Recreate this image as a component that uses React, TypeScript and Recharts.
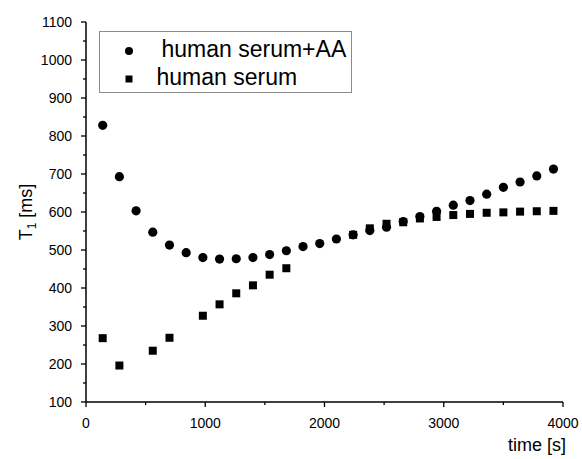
import React from 'react';
import { ScatterChart, Scatter, XAxis, YAxis } from 'recharts';

// time points [s]
const times = [140, 280, 420, 560, 700, 840, 980, 1120, 1260, 1400, 1540, 1680, 1820, 1960,
  2100, 2240, 2380, 2520, 2660, 2800, 2940, 3080, 3220, 3360, 3500, 3640, 3780, 3920];

// T1 [ms], human serum + AA (circles)
const serumAA = [828, 693, 603, 547, 513, 493, 480, 476, 477, 480, 488, 498, 509, 517,
  529, 540, 551, 560, 575, 588, 602, 618, 630, 647, 665, 679, 695, 713];

// T1 [ms], human serum (squares), null = no point
const serum = [268, 196, null, 235, 269, null, 327, 357, 386, 407, 435, 452, null, null,
  null, 540, 557, 569, 573, 583, 587, 592, 595, 598, 599, 601, 602, 603];

const xTicks = [0, 500, 1000, 1500, 2000, 2500, 3000, 3500, 4000];
const yTicks = [100, 150, 200, 250, 300, 350, 400, 450, 500, 550, 600, 650, 700, 750, 800, 850, 900, 950, 1000, 1050, 1100];

const FONT = '"Liberation Sans", Arial, sans-serif';

const toPoints = (vals: (number | null)[]) =>
  times.map((t, i) => ({ t, v: vals[i] })).filter((p) => p.v !== null);

const XTick = (props: any) => {
  const { x, y, payload } = props;
  const major = payload.value % 1000 === 0;
  return (
    <g>
      <line x1={x} x2={x} y1={y} y2={y + (major ? 5 : 3)} stroke="#000" strokeWidth={1.3} />
      {major && (
        <text x={x} y={y + 25.5} textAnchor="middle" fontSize={14} fontFamily={FONT} fill="#000">
          {payload.value}
        </text>
      )}
    </g>
  );
};

const YTick = (props: any) => {
  const { x, y, payload } = props;
  const major = payload.value % 100 === 0;
  return (
    <g>
      <line x1={x} x2={x - (major ? 5 : 3)} y1={y} y2={y} stroke="#000" strokeWidth={1.3} />
      {major && (
        <text x={x - 14} y={y + 5} textAnchor="end" fontSize={14} fontFamily={FONT} fill="#000">
          {payload.value}
        </text>
      )}
    </g>
  );
};

const Dot = (props: any) => <circle cx={props.cx} cy={props.cy} r={4.6} fill="#000" />;
const Square = (props: any) => <rect x={props.cx - 4} y={props.cy - 4} width={8} height={8} fill="#000" />;

const LegendBox = () => (
  <svg width={253} height={62} style={{ display: 'block' }}>
    <rect x={0.5} y={0.5} width={252} height={61} fill="#fff" stroke="#8c8c8c" />
    <circle cx={30} cy={20} r={4} fill="#000" />
    <text x={62.5} y={26} fontSize={23} fontFamily={FONT} fill="#000">human serum+AA</text>
    <rect x={26.5} y={44.5} width={7} height={7} fill="#000" />
    <text x={57.5} y={54} fontSize={23} fontFamily={FONT} fill="#000">human serum</text>
  </svg>
);

export default function App() {
  return (
    <div style={{ position: 'absolute', left: 0, top: 0, width: 582, height: 459, background: '#fff' }}>
      <ScatterChart width={582} height={459} margin={{ top: 22, right: 19, left: 0, bottom: 0 }}>
        <XAxis
          xAxisId={0}
          dataKey="t"
          type="number"
          domain={[0, 4000]}
          ticks={xTicks}
          interval={0}
          height={57}
          tickSize={0}
          tickMargin={0}
          tickLine={false}
          axisLine={{ stroke: '#000', strokeWidth: 1.5 }}
          tick={<XTick />}
          label={() => (
            <text x={566} y={451} textAnchor="end" fontSize={18} fontFamily={FONT} fill="#000">time [s]</text>
          )}
        />
        <XAxis xAxisId="top" orientation="top" type="number" domain={[0, 4000]} height={0} tick={false} tickLine={false} axisLine={{ stroke: '#000', strokeWidth: 1.5 }} />
        <YAxis
          yAxisId={0}
          dataKey="v"
          type="number"
          domain={[100, 1100]}
          ticks={yTicks}
          interval={0}
          width={86}
          tickSize={0}
          tickMargin={0}
          tickLine={false}
          axisLine={{ stroke: '#000', strokeWidth: 1.5 }}
          tick={<YTick />}
          label={() => (
            <text x={32} y={212} transform="rotate(-90, 32, 212)" textAnchor="middle" fontSize={18} fontFamily={FONT} fill="#000">
              T<tspan fontSize={12} dy={4}>1</tspan><tspan dy={-4}> [ms]</tspan>
            </text>
          )}
        />
        <YAxis yAxisId="right" orientation="right" type="number" domain={[100, 1100]} width={0} tick={false} tickLine={false} axisLine={{ stroke: '#000', strokeWidth: 1.5 }} />
        <Scatter name="human serum+AA" data={toPoints(serumAA)} xAxisId={0} yAxisId={0} shape={<Dot />} isAnimationActive={false} />
        <Scatter name="human serum" data={toPoints(serum)} xAxisId={0} yAxisId={0} shape={<Square />} isAnimationActive={false} />
      </ScatterChart>
      <div style={{ position: 'absolute', left: 99, top: 31 }}>
        <LegendBox />
      </div>
    </div>
  );
}
